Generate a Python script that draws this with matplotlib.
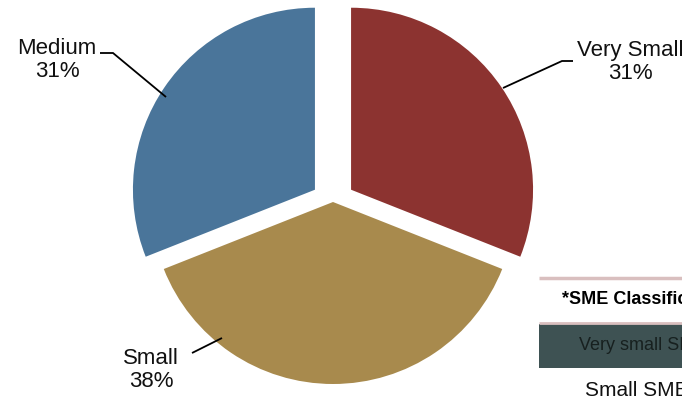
import matplotlib.pyplot as plt
from matplotlib.patches import Rectangle

# pie data (clockwise from 12 o'clock)
labels = ["Very Small", "Small", "Medium"]
shares = [31, 38, 31]
colors = ["#8C3330", "#A88A4D", "#4A759A"]
explode_frac = [0.12, 0.0, 0.12]

# partial classification table at bottom right
table_title = "*SME Classification"
table_rows = ["Very small SME", "Small SME"]

plt.rcParams["hatch.color"] = "#56696a"
plt.rcParams["hatch.linewidth"] = 0.6

W, H = 682, 398
fig = plt.figure(figsize=(W / 100, H / 100), dpi=100)
ax = fig.add_axes([0, 0, 1, 1])

cx, cy, r = 333, H - 202, 182
# matplotlib offsets exploded wedges in data units, so scale by radius
ax.pie(shares, colors=colors, explode=[f * r for f in explode_frac],
       startangle=90, counterclock=False, center=(cx, cy), radius=r,
       frame=True, wedgeprops=dict(linewidth=0))
ax.set_xlim(0, W)
ax.set_ylim(0, H)
ax.set_aspect("equal")
ax.axis("off")

font = "Liberation Sans"
# label centre and leader line (pixel coords from top-left)
lab_pos = {
    "Very Small": (630, 62, [(503, 88), (562, 61), (573, 61)]),
    "Small": (151, 370, [(192, 353), (222, 338)]),
    "Medium": (57, 60, [(100, 53), (113, 53), (166, 97)]),
}
for name, val in zip(labels, shares):
    x, y, pts = lab_pos[name]
    ax.text(x, H - y, f"{name}\n{val}%", ha="center", va="center",
            fontsize=16, family=font, linespacing=1.15, color="#111111")
    ax.plot([p[0] for p in pts], [H - p[1] for p in pts], color="black", lw=1.3,
            solid_capstyle="butt", solid_joinstyle="miter")

# table fragment (runs off the right edge, as in the source)
ax.plot([539, W], [H - 278, H - 278], color="#d9bfbf", lw=2.5, solid_capstyle="butt")
ax.text(562, H - 299, table_title, fontsize=13, fontweight="bold", family=font,
        va="center", ha="left", color="black", clip_on=True)
ax.plot([539, W], [H - 323, H - 323], color="#d9bfbf", lw=2, solid_capstyle="butt")
ax.add_patch(Rectangle((539, H - 368), W - 539, 44, facecolor="#3e5253",
                       edgecolor="none", hatch="..", linewidth=0))
ax.text(579, H - 346, table_rows[0], fontsize=13, family=font, va="center",
        ha="left", color="#17201f", clip_on=True)
ax.text(585, H - 390, table_rows[1], fontsize=15, family=font, va="center",
        ha="left", color="#111111", clip_on=True)

fig.savefig("out.png", dpi=100)
